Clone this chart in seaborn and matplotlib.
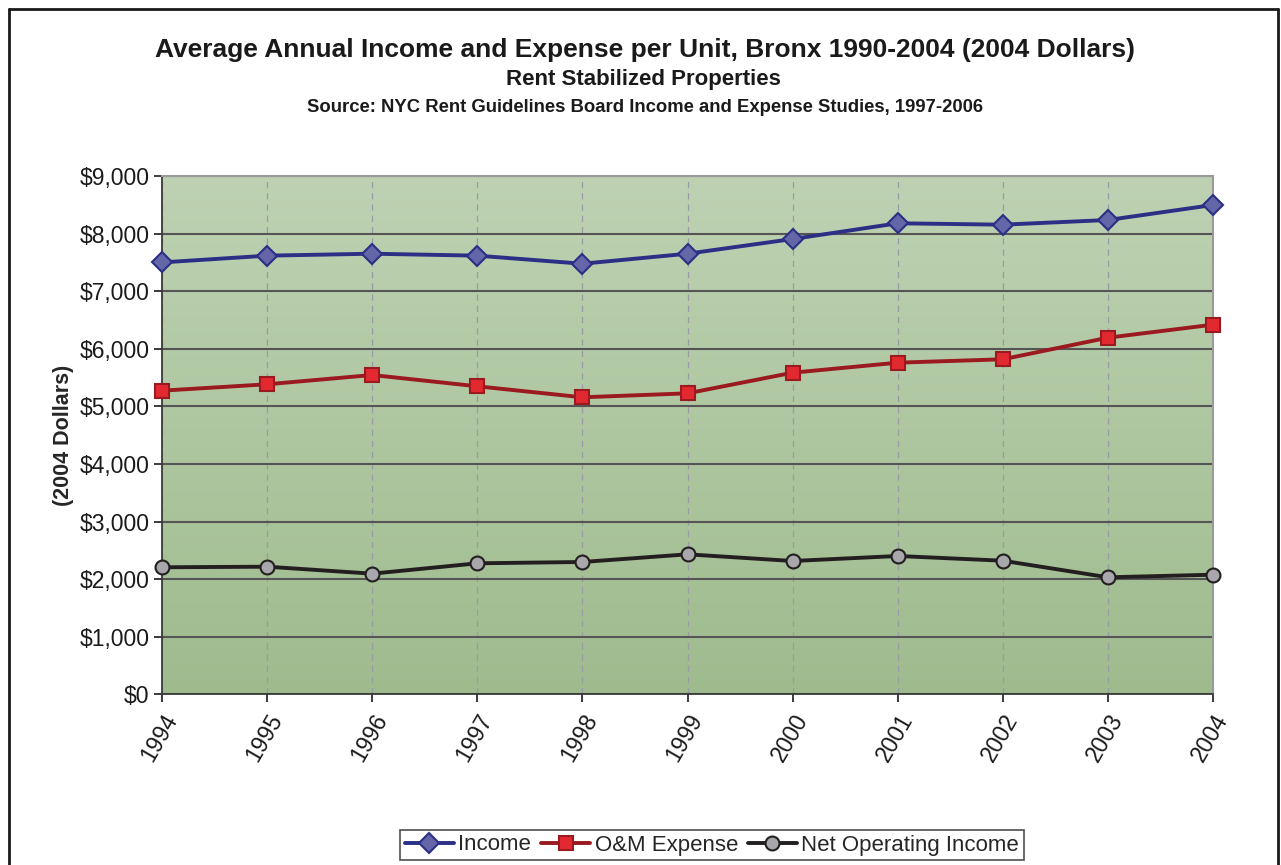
import numpy as np
import pandas as pd
import matplotlib
matplotlib.use("Agg")
import matplotlib.pyplot as plt
import seaborn as sns
from matplotlib.ticker import FuncFormatter, MultipleLocator
from matplotlib.lines import Line2D

years = [1994, 1995, 1996, 1997, 1998, 1999, 2000, 2001, 2002, 2003, 2004]
income = [7500, 7617, 7651, 7617, 7477, 7651, 7906, 8179, 8155, 8236, 8497]
om_expense = [5273, 5384, 5545, 5349, 5158, 5227, 5585, 5759, 5818, 6193, 6419]
noi = [2207, 2217, 2096, 2276, 2299, 2432, 2316, 2403, 2321, 2033, 2078]
series_names = ["Income", "O&M Expense", "Net Operating Income"]

sns.set_theme(style="white")
plt.rcParams['font.family'] = ['Liberation Sans', 'DejaVu Sans']

fig = plt.figure(figsize=(12.81, 8.65), dpi=100)
ax = fig.add_axes([162/1281, 1-694.4/865, (1213-162)/1281, (694.4-176)/865])

# gradient background
grad = np.linspace(0, 1, 256).reshape(-1, 1)
top = np.array([0xbe, 0xd2, 0xb3]) / 255
bot = np.array([0x9f, 0xbb, 0x8e]) / 255
img = bot[None, None, :] * (1 - grad[:, :, None]) + top[None, None, :] * grad[:, :, None]
ax.imshow(img, extent=[0, 1, 0, 1], transform=ax.transAxes, aspect='auto',
          origin='lower', zorder=0)

df = pd.DataFrame({"Year": years, "Income": income,
                   "O&M Expense": om_expense, "Net Operating Income": noi})

styles = {
    "Income": dict(color="#2b2f86", marker="D", mfc="#6466a8", mec="#2b2f86", ms=10),
    "O&M Expense": dict(color="#9a1a1f", marker="s", mfc="#e32930", mec="#9a1a1f", ms=10),
    "Net Operating Income": dict(color="#231f20", marker="o", mfc="#a7a7ac", mec="#231f20", ms=10),
}
for name in series_names:
    st = styles[name]
    sns.lineplot(data=df, x="Year", y=name, ax=ax, color=st["color"], lw=2.8,
                 marker=st["marker"], markerfacecolor=st["mfc"],
                 markeredgecolor=st["mec"], markeredgewidth=1.5,
                 markersize=st["ms"], label=name, clip_on=False, zorder=5)

ax.set_xlim(1994, 2004)
ax.set_ylim(0, 9000)
ax.yaxis.set_major_locator(MultipleLocator(1000))
ax.yaxis.set_major_formatter(FuncFormatter(lambda v, p: f"${int(v):,}"))
ax.set_xticks(years)
ax.set_xticklabels([str(y) for y in years], rotation=60, ha='right',
                   rotation_mode='anchor')
ax.set_xlabel("")
ax.set_ylabel("(2004 Dollars)", fontsize=15.5, fontweight='bold', labelpad=4)

ax.grid(axis='y', color='#555555', lw=1.5, ls='-', zorder=1)
ax.grid(axis='x', color='#9a9aa6', lw=0.9, ls=(0, (5, 4)), zorder=1)
ax.set_axisbelow(True)

for s in ['left', 'bottom']:
    ax.spines[s].set_color('#3a3a3a')
    ax.spines[s].set_linewidth(1.3)
for s in ['top', 'right']:
    ax.spines[s].set_color('#9a9a9a')
    ax.spines[s].set_linewidth(1.5)

ax.tick_params(axis='both', which='major', labelsize=16.5, colors='#1a1a1a',
               direction='out', length=6, width=1.2, left=True, bottom=True)
ax.tick_params(axis='y', pad=3)
ax.tick_params(axis='x', pad=5)

# titles
fig.text(645/1281, 1-50/865, "Average Annual Income and Expense per Unit, Bronx 1990-2004 (2004 Dollars)",
         ha='center', va='center', fontsize=19, fontweight='bold', color='#1a1a1a')
fig.text(643/1281, 1-80/865, "Rent Stabilized Properties",
         ha='center', va='center', fontsize=16, fontweight='bold', color='#1a1a1a')
fig.text(645/1281, 1-108/865, "Source: NYC Rent Guidelines Board Income and Expense Studies, 1997-2006",
         ha='center', va='center', fontsize=13.3, fontweight='bold', color='#1a1a1a')

# legend
if ax.legend_:
    ax.legend_.remove()
handles = [Line2D([0], [0], color=styles[n]["color"], lw=2.8, marker=styles[n]["marker"],
                  mfc=styles[n]["mfc"], mec=styles[n]["mec"], mew=1.5, ms=10) for n in series_names]
leg = fig.legend(handles, series_names, loc='center', bbox_to_anchor=(712/1281, 1-845/865),
                 ncol=3, fontsize=16, frameon=True, fancybox=False, edgecolor='#222222',
                 handlelength=2.2, handletextpad=0.2, columnspacing=0.45, borderpad=0.22,
                 borderaxespad=0)
leg.get_frame().set_linewidth(1.2)

# outer border (left, top, right)
for xs, ys in [([9/1281, 9/1281], [0, 1-9/865]),
               ([9/1281, 1278/1281], [1-9/865, 1-9/865]),
               ([1278/1281, 1278/1281], [0, 1-9/865])]:
    fig.add_artist(Line2D(xs, ys, color='#1a1a1a', lw=2.0, transform=fig.transFigure))

fig.savefig("out.png", dpi=100)
